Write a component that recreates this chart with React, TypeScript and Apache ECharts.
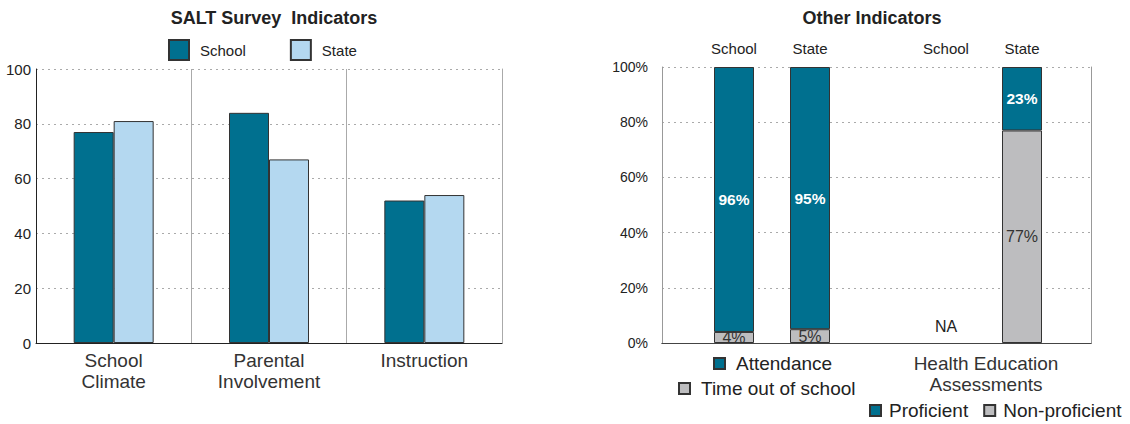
import React, { useEffect, useRef } from "react";
import * as echarts from "echarts";

const saltCategories = ["School\nClimate", "Parental\nInvolvement", "Instruction"];
const saltSchool = [77, 84, 52];
const saltState = [81, 67, 54];

const groupLabels = ["School", "State"];
const attendance = [96, 95];
const timeOut = [4, 5];
const proficient: (number | null)[] = [null, 23];
const nonProficient: (number | null)[] = [null, 77];
const naFlags = [true, false];

const TEAL = "#00708f";
const LIGHT = "#b4d8f0";
const GRAY = "#bdbdbf";
const BORDER = "#333";
const FONT = "'Liberation Sans', Arial, sans-serif";

export default function App() {
  const ref = useRef<HTMLDivElement>(null);
  useEffect(() => {
    document.body.style.margin = "0";
    const chart = echarts.init(ref.current!, null, { renderer: "svg" });
    const dotted = { show: true, lineStyle: { color: "#aaa", type: [2, 4] as any, width: 1 } };
    const barBase = { itemStyle: { borderColor: BORDER, borderWidth: 1 } };
    const nonProfData = nonProficient.map((v, i) =>
      naFlags[i]
        ? { value: 0, itemStyle: { borderWidth: 0 }, label: { show: true, formatter: "NA", position: "top", distance: 9, color: "#222", fontSize: 16, fontWeight: "normal" } }
        : v
    );
    const legendText = { fontSize: 19, color: "#222", padding: [0, 0, 0, 6] };
    const option: any = {
      animation: false,
      textStyle: { fontFamily: FONT },
      title: [
        { text: "SALT Survey  Indicators", left: 269, top: 4, textAlign: "center", textStyle: { fontSize: 18, fontWeight: "bold", color: "#222", fontFamily: FONT } },
        { text: "Other Indicators", left: 867, top: 4, textAlign: "center", textStyle: { fontSize: 18, fontWeight: "bold", color: "#222", fontFamily: FONT } },
      ],
      legend: [
        { data: ["School", "State"], left: 163, top: 34, itemWidth: 20, itemHeight: 20, itemGap: 44, selectedMode: false, icon: "rect", textStyle: { fontSize: 15, color: "#222", padding: [0, 0, 0, 6] } },
        { data: ["Attendance"], left: 708, top: 349, itemWidth: 11, itemHeight: 11, selectedMode: false, icon: "rect", textStyle: legendText },
        { data: ["Time out of school"], left: 673, top: 374, itemWidth: 11, itemHeight: 11, selectedMode: false, icon: "rect", textStyle: legendText },
        { data: ["Proficient", "Non-proficient"], left: 864, top: 396, itemWidth: 11, itemHeight: 11, itemGap: 15, selectedMode: false, icon: "rect", textStyle: { fontSize: 19, color: "#222", padding: [0, 0, 0, 3] } },
      ],
      grid: [
        { left: 36, top: 69, width: 466, height: 274 },
        { left: 662, top: 67, width: 429, height: 276 },
        { left: 696, top: 67, width: 152, height: 276 },
        { left: 908, top: 67, width: 152, height: 276 },
      ],
      xAxis: [
        { type: "category", gridIndex: 0, data: saltCategories, axisLine: { lineStyle: { color: "#222" } }, axisTick: { show: false },
          axisLabel: { fontSize: 19, color: "#333", lineHeight: 21, margin: 7 }, splitLine: { show: true, lineStyle: { color: "#aaa" } } },
        { type: "category", gridIndex: 1, data: [""], position: "bottom", axisLine: { lineStyle: { color: "#555" } }, axisTick: { show: false }, axisLabel: { show: false } },
        { type: "category", gridIndex: 1, data: [""], position: "top", axisLine: { lineStyle: { color: "#444" } }, axisTick: { show: false }, axisLabel: { show: false } },
        { type: "category", gridIndex: 2, data: groupLabels, position: "top", axisLine: { show: false }, axisTick: { show: false }, axisLabel: { fontSize: 15, color: "#222", margin: 11 } },
        { type: "category", gridIndex: 3, data: groupLabels, position: "top", axisLine: { show: false }, axisTick: { show: false }, axisLabel: { fontSize: 15, color: "#222", margin: 11 } },
      ],
      yAxis: [
        { type: "value", gridIndex: 0, min: 0, max: 100, interval: 20, axisLine: { show: true, lineStyle: { color: "#222" } }, axisTick: { show: false },
          axisLabel: { fontSize: 15, color: "#222", margin: 5 }, splitLine: dotted },
        { type: "value", gridIndex: 0, position: "right", min: 0, max: 100, axisLine: { show: true, lineStyle: { color: "#aaa" } }, axisTick: { show: false }, axisLabel: { show: false }, splitLine: { show: false } },
        { type: "value", gridIndex: 1, min: 0, max: 100, interval: 20, axisLine: { show: true, lineStyle: { color: "#999" } }, axisTick: { show: false },
          axisLabel: { fontSize: 14, color: "#222", margin: 14, formatter: "{value}%" }, splitLine: dotted },
        { type: "value", gridIndex: 1, position: "right", min: 0, max: 100, axisLine: { show: true, lineStyle: { color: "#999" } }, axisTick: { show: false }, axisLabel: { show: false }, splitLine: { show: false } },
        { type: "value", gridIndex: 2, min: 0, max: 100, show: false },
        { type: "value", gridIndex: 3, min: 0, max: 100, show: false },
      ],
      series: [
        { name: "School", type: "bar", xAxisIndex: 0, yAxisIndex: 0, data: saltSchool, barWidth: 40, barGap: "0%", color: TEAL, ...barBase },
        { name: "State", type: "bar", xAxisIndex: 0, yAxisIndex: 0, data: saltState, barWidth: 40, barGap: "0%", color: LIGHT, ...barBase },
        { name: "Time out of school", type: "bar", xAxisIndex: 3, yAxisIndex: 4, stack: "a", data: timeOut, barWidth: 40, color: GRAY, ...barBase,
          label: { show: true, position: "inside", formatter: "{c}%", color: "#333", fontSize: 16 } },
        { name: "Attendance", type: "bar", xAxisIndex: 3, yAxisIndex: 4, stack: "a", data: attendance, barWidth: 40, color: TEAL, ...barBase,
          label: { show: true, position: "inside", formatter: "{c}%", color: "#fff", fontSize: 15.5, fontWeight: "bold" } },
        { name: "Non-proficient", type: "bar", xAxisIndex: 4, yAxisIndex: 5, stack: "b", data: nonProfData, barWidth: 40, color: GRAY, ...barBase,
          label: { show: true, position: "inside", formatter: "{c}%", color: "#333", fontSize: 16 } },
        { name: "Proficient", type: "bar", xAxisIndex: 4, yAxisIndex: 5, stack: "b", data: proficient, barWidth: 40, color: TEAL, ...barBase,
          label: { show: true, position: "inside", formatter: "{c}%", color: "#fff", fontSize: 15.5, fontWeight: "bold" } },
      ],
      graphic: [
        { type: "text", x: 986, y: 353, style: { text: "Health Education\nAssessments", fill: "#333", fontSize: 19, lineHeight: 21, align: "center", fontFamily: FONT } },
      ],
    };
    chart.setOption(option);
    return () => chart.dispose();
  }, []);
  return <div ref={ref} style={{ width: 1130, height: 424 }} />;
}
